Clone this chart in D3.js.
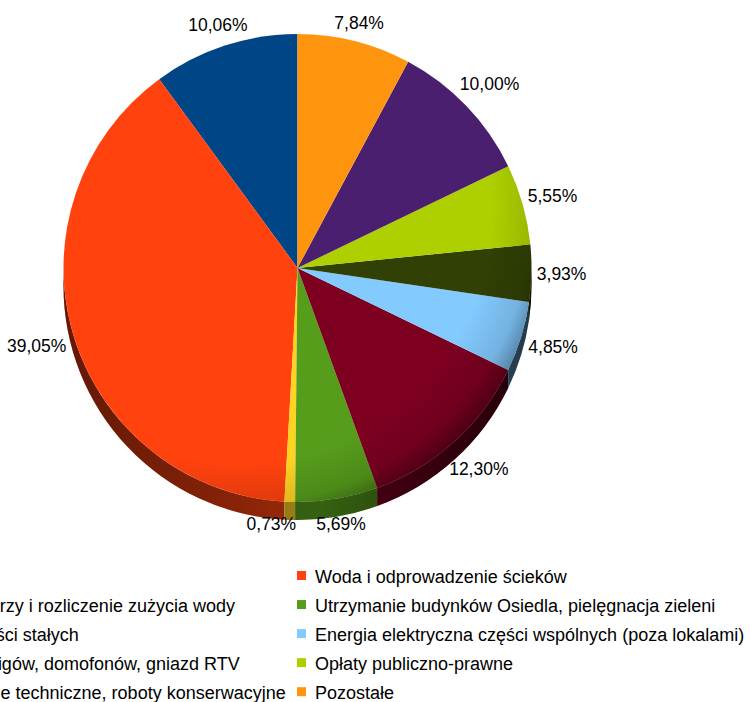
<!DOCTYPE html>
<html>
<head>
<meta charset="utf-8">
<script src="https://cdn.jsdelivr.net/npm/d3@7"></script>
<style>
  html, body { margin: 0; padding: 0; background: #fff; overflow: hidden; }
  svg { display: block; font-family: "Liberation Sans", Arial, sans-serif; }
</style>
</head>
<body>
<svg id="chart" width="751" height="702"></svg>
<script>
// Cost structure (share of total, %), in series order
const categories = [
  "Koszty zarządu",
  "Woda i odprowadzenie ścieków",
  "Odczyty wodomierzy i rozliczenie zużycia wody",
  "Utrzymanie budynków Osiedla, pielęgnacja zieleni",
  "Wywóz nieczystości stałych",
  "Energia elektryczna części wspólnych (poza lokalami)",
  "Konserwacja dźwigów, domofonów, gniazd RTV",
  "Opłaty publiczno-prawne",
  "Przeglądy, kontrole techniczne, roboty konserwacyjne",
  "Pozostałe"
];
const shares = [10.06, 39.05, 0.73, 5.69, 12.30, 4.85, 3.93, 5.55, 10.00, 7.84];
const colors = ["#004586", "#FF420E", "#FFD320", "#579D1C", "#7E0021",
                "#83CAFF", "#314004", "#AECF00", "#4B1F6F", "#FF950E"];

(function draw() {
  const svg = d3.select("#chart");
  const cx = 297.5, cy = 268, r = 234, depth = 18;
  const labelSize = 17.5, legendSize = 18;

  const defs = svg.append("defs");
  // side wall shading: darker towards the outer edges
  const sideGrad = defs.append("linearGradient")
    .attr("id", "sideShade").attr("gradientUnits", "userSpaceOnUse")
    .attr("x1", cx - r).attr("x2", cx + r).attr("y1", 0).attr("y2", 0);
  [[0, 0.62], [0.3, 0.5], [0.55, 0.38], [0.75, 0.55], [1, 0.72]].forEach(([o, a]) =>
    sideGrad.append("stop").attr("offset", o).attr("stop-color", "#000").attr("stop-opacity", a));
  // top face: light from the upper left, rim darkens on the lower right
  const rimGrad = defs.append("radialGradient")
    .attr("id", "rimShade").attr("gradientUnits", "userSpaceOnUse")
    .attr("cx", cx - 60).attr("cy", cy - 60).attr("r", r + 85);
  [[0, 0], [0.8, 0], [0.93, 0.12], [1, 0.38]].forEach(([o, a]) =>
    rimGrad.append("stop").attr("offset", o).attr("stop-color", "#000").attr("stop-opacity", a));

  // series run counter-clockwise from twelve o'clock
  const pie = d3.pie().sort(null).value(d => d).startAngle(0).endAngle(-2 * Math.PI);
  const slices = pie(shares);
  const arc = d3.arc().innerRadius(0).outerRadius(r);

  // side walls (only the front half can be seen)
  function sidePath(s) {
    let lo = Math.min(s.startAngle, s.endAngle), hi = Math.max(s.startAngle, s.endAngle);
    lo += 2 * Math.PI; hi += 2 * Math.PI;
    const a0 = Math.max(lo, Math.PI / 2), a1 = Math.min(hi, 3 * Math.PI / 2);
    if (a1 <= a0) return null;
    const p = d3.path();
    p.moveTo(cx + r * Math.sin(a0), cy - r * Math.cos(a0));
    p.arc(cx, cy, r, a0 - Math.PI / 2, a1 - Math.PI / 2, false);
    p.lineTo(cx + r * Math.sin(a1), cy + depth - r * Math.cos(a1));
    p.arc(cx, cy + depth, r, a1 - Math.PI / 2, a0 - Math.PI / 2, true);
    p.closePath();
    return p.toString();
  }
  const sides = svg.append("g");
  slices.forEach((s, i) => {
    const d = sidePath(s);
    if (!d) return;
    sides.append("path").attr("d", d).attr("fill", colors[i]);
    sides.append("path").attr("d", d).attr("fill", "url(#sideShade)");
  });

  // top faces
  const faces = svg.append("g").attr("transform", `translate(${cx},${cy})`);
  faces.selectAll("path").data(slices).join("path")
    .attr("d", arc)
    .attr("fill", (d, i) => colors[i]);
  svg.append("circle").attr("cx", cx).attr("cy", cy).attr("r", r)
    .attr("fill", "url(#rimShade)");

  // value labels outside the pie
  const fmt = v => d3.format(".2f")(v).replace(".", ",") + "%";
  const labelG = svg.append("g").attr("font-size", labelSize).attr("fill", "#000");
  const labels = slices.map((s, i) => {
    const a = (s.startAngle + s.endAngle) / 2;
    const t = labelG.append("text").attr("text-anchor", "middle").text(fmt(shares[i]));
    const w = t.node().getComputedTextLength(), h = 16;
    const sn = Math.sin(a), cs = Math.cos(a);
    const gap = 5 + 8 * Math.max(0, -cs);
    const D = r + gap + (w / 2) * Math.abs(sn) + (h / 2) * Math.abs(cs);
    return { t, w, h, v: shares[i], x: cx + D * sn, y: cy - D * cs };
  });
  // keep neighbouring labels apart
  const pad = 20;
  for (let i = 0; i < labels.length; i++) {
    for (let j = 0; j < labels.length; j++) {
      if (i === j) continue;
      const A = labels[i], B = labels[j];
      if (A.v >= B.v) continue;
      const overlapY = Math.abs(A.y - B.y) < (A.h + B.h) / 2;
      const need = (A.w + B.w) / 2 + pad;
      if (overlapY && Math.abs(A.x - B.x) < need) {
        A.x = A.x < B.x ? B.x - need : B.x + need;
      }
    }
  }
  labels.forEach(L => L.t.attr("x", L.x).attr("y", L.y + 6.3));

  // legend: two columns, filled row by row
  const legend = svg.append("g").attr("font-size", legendSize).attr("fill", "#000");
  const probe = legend.append("text");
  const maxW = d3.max(categories, c => { probe.text(c); return probe.node().getComputedTextLength(); });
  probe.remove();
  const swatch = 9, textGap = 18, colGap = 10;
  const colW = maxW + textGap + colGap;
  const col2X = 297, col1X = col2X - colW;
  const rowY0 = 575.5, rowStep = 29.05;
  categories.forEach((c, i) => {
    const col = i % 2, row = Math.floor(i / 2);
    const x = col === 0 ? col1X : col2X;
    const y = rowY0 + row * rowStep;
    legend.append("rect").attr("x", x).attr("y", y - swatch / 2)
      .attr("width", swatch).attr("height", swatch).attr("fill", colors[i]);
    legend.append("text").attr("x", x + textGap).attr("y", y + 7.5).text(c);
  });
})();
</script>
</body>
</html>
